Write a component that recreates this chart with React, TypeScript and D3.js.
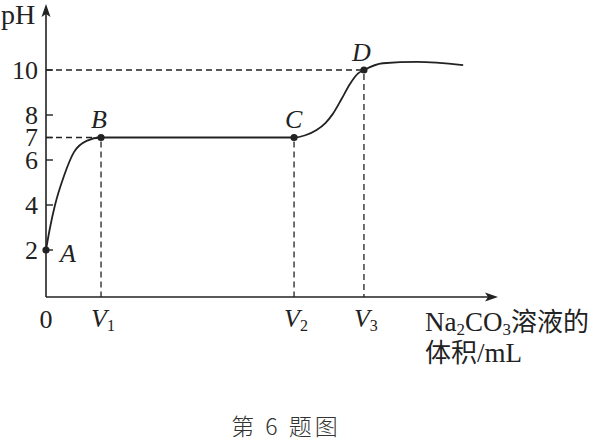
import React, { useEffect, useRef } from 'react';
import * as d3 from 'd3';

// volume (arbitrary units) and pH along the titration curve
const curveVolume = [0, 0.08, 0.2, 0.4, 0.62, 0.9, 1.22, 5.5, 5.75, 6.0, 6.2, 6.36, 6.55, 6.74, 6.92, 7.05, 7.47, 8.23, 9.25];
const curvePH = [2, 2.9, 4, 5.3, 6.35, 6.85, 7, 7, 7.1, 7.33, 7.65, 8.05, 8.7, 9.38, 9.85, 10, 10.3, 10.36, 10.22];

const keyNames = ['A', 'B', 'C', 'D'];
const keyVolume = [0, 1.22, 5.5, 7.05];
const keyPH = [2, 7, 7, 10];

const yTicks = [2, 4, 6, 7, 8, 10];
const xTickNames = ['V1', 'V2', 'V3'];
const xTickSubs = ['1', '2', '3'];
const xTickValues = [1.22, 5.5, 7.05];

const App: React.FC = () => {
  const svgRef = useRef<SVGSVGElement>(null);

  useEffect(() => {
    if (!svgRef.current) return;
    const svg = d3.select(svgRef.current);
    svg.selectAll('*').remove();

    const ink = '#222';
    const serif = '"Liberation Serif", "DejaVu Serif", serif';
    const cjk = '"Noto Sans CJK SC", sans-serif';
    const fs = 26;
    const x = d3.scaleLinear().domain([0, 10]).range([46, 497]);
    const y = d3.scaleLinear().domain([0, 10]).range([295, 70]);
    const axisY = 297;
    const axisX = x(0);

    // axes
    svg.append('line').attr('x1', axisX).attr('x2', axisX).attr('y1', axisY).attr('y2', 12)
      .attr('stroke', ink).attr('stroke-width', 1.6);
    svg.append('path').attr('d', `M${axisX},4 L${axisX - 4.5},17 L${axisX},14 L${axisX + 4.5},17 Z`).attr('fill', ink);
    svg.append('line').attr('x1', axisX).attr('x2', 490).attr('y1', axisY).attr('y2', axisY)
      .attr('stroke', ink).attr('stroke-width', 1.6);
    svg.append('path').attr('d', `M498,${axisY} L485,${axisY - 4.5} L488,${axisY} L485,${axisY + 4.5} Z`).attr('fill', ink);

    // y ticks
    svg.selectAll('.ytick').data(yTicks).enter().append('line')
      .attr('x1', axisX).attr('x2', axisX + 7)
      .attr('y1', d => y(d)).attr('y2', d => y(d))
      .attr('stroke', ink).attr('stroke-width', 1.4);
    svg.selectAll('.ylab').data(yTicks).enter().append('text')
      .attr('x', 38).attr('y', d => y(d) + 8.5)
      .attr('text-anchor', 'end').attr('font-family', serif).attr('font-size', fs).attr('fill', ink)
      .text(d => d);

    svg.append('text').attr('x', 1).attr('y', 24).attr('font-family', serif).attr('font-size', 28)
      .attr('fill', ink).text('pH');

    // dashed guides
    const dash = '6,4';
    const guide = (x1: number, y1: number, x2: number, y2: number) =>
      svg.append('line').attr('x1', x1).attr('y1', y1).attr('x2', x2).attr('y2', y2)
        .attr('stroke', ink).attr('stroke-width', 1.3).attr('stroke-dasharray', dash);
    guide(axisX, y(10), x(keyVolume[3]), y(10));
    guide(axisX, y(7), x(keyVolume[1]), y(7));
    [1, 2, 3].forEach(i => guide(x(keyVolume[i]), y(keyPH[i]) + 4, x(keyVolume[i]), axisY));

    // curve
    const pts = curveVolume.map((v, i) => [v, curvePH[i]] as [number, number]);
    const line = d3.line<[number, number]>().x(d => x(d[0])).y(d => y(d[1])).curve(d3.curveMonotoneX);
    svg.append('path').attr('d', line(pts)).attr('fill', 'none').attr('stroke', ink).attr('stroke-width', 1.8);

    // key points
    svg.selectAll('.pt').data(keyNames).enter().append('circle')
      .attr('cx', (_, i) => x(keyVolume[i])).attr('cy', (_, i) => y(keyPH[i]))
      .attr('r', 3.6).attr('fill', ink);
    const offs = [[14, 12], [-10, -10], [-9, -10], [-12, -9]];
    svg.selectAll('.ptlab').data(keyNames).enter().append('text')
      .attr('x', (_, i) => x(keyVolume[i]) + offs[i][0])
      .attr('y', (_, i) => y(keyPH[i]) + offs[i][1])
      .attr('font-family', serif).attr('font-style', 'italic').attr('font-size', fs).attr('fill', ink)
      .text(d => d);

    // x tick labels
    svg.append('text').attr('x', axisX).attr('y', 328).attr('text-anchor', 'middle')
      .attr('font-family', serif).attr('font-size', fs).attr('fill', ink).text('0');
    xTickNames.forEach((name, i) => {
      const t = svg.append('text').attr('x', x(xTickValues[i]) - 10).attr('y', 327)
        .attr('font-family', serif).attr('font-size', fs).attr('fill', ink);
      t.append('tspan').attr('font-style', 'italic').text(name[0]);
      t.append('tspan').attr('font-size', 16).attr('dy', 4).text(xTickSubs[i]);
    });

    // axis title
    const t1 = svg.append('text').attr('x', 425).attr('y', 331)
      .attr('font-family', serif).attr('font-size', 27).attr('fill', ink);
    t1.append('tspan').text('Na');
    t1.append('tspan').attr('font-size', 17).attr('dy', 4).text('2');
    t1.append('tspan').attr('dy', -4).text('CO');
    t1.append('tspan').attr('font-size', 17).attr('dy', 4).text('3');
    t1.append('tspan').attr('dy', -4).attr('font-family', cjk).attr('font-size', 26).text('溶液的');
    const t2 = svg.append('text').attr('x', 425).attr('y', 362)
      .attr('font-family', serif).attr('font-size', 27).attr('fill', ink);
    t2.append('tspan').attr('font-family', cjk).attr('font-size', 26).text('体积');
    t2.append('tspan').text('/mL');

    // caption
    svg.append('text').attr('x', 286).attr('y', 435).attr('text-anchor', 'middle')
      .attr('font-family', cjk).attr('font-weight', 300).attr('letter-spacing', 3)
      .attr('font-size', 23).attr('fill', '#333').text('第 6 题图');
  }, []);

  return (
    <div style={{ position: 'absolute', left: 0, top: 0, width: 608, height: 448, background: '#fff' }}>
      <svg ref={svgRef} width={608} height={448} viewBox="0 0 608 448" />
    </div>
  );
};

export default App;
